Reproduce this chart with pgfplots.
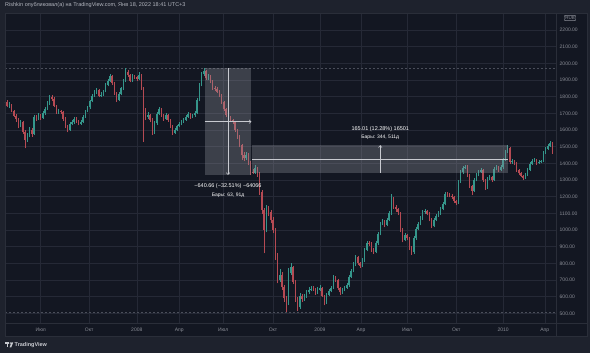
\documentclass[border=0pt]{standalone}
\usepackage{pgfplots}
\pgfplotsset{compat=1.18}
\usepackage{pgfplotstable}
\usepackage{fontspec}
\setmainfont{Liberation Sans}
\usetikzlibrary{arrows.meta}
\definecolor{bgout}{HTML}{1E222D}
\definecolor{panec}{HTML}{131722}
\definecolor{gridc}{HTML}{252936}
\definecolor{framec}{HTML}{2A2E39}
\definecolor{tickc}{HTML}{8A8D96}
\definecolor{upc}{HTML}{35968B}
\definecolor{dnc}{HTML}{B54A53}
\definecolor{boxc}{HTML}{9598A1}
\definecolor{linec}{HTML}{C8CAD0}
\definecolor{titlec}{HTML}{B2B5BE}
\definecolor{dashc}{HTML}{4A4E5A}

\pgfplotstableread{
x o h l c
0 1760 1785 1750 1770
3 1770 1778 1735 1742
6 1742 1765 1730 1752
9 1752 1758 1705 1715
12 1715 1722 1675 1685
15 1685 1695 1650 1665
18 1665 1670 1610 1622
21 1622 1660 1615 1648
24 1648 1655 1575 1590
27 1590 1598 1490 1540
30 1540 1580 1530 1565
33 1565 1615 1555 1602
36 1602 1610 1560 1575
39 1575 1690 1570 1678
42 1678 1688 1655 1668
45 1668 1702 1660 1690
48 1690 1698 1662 1672
51 1672 1712 1665 1700
54 1700 1738 1692 1728
57 1728 1772 1720 1760
60 1760 1812 1752 1800
63 1800 1810 1775 1788
66 1788 1795 1735 1745
69 1745 1752 1695 1705
72 1705 1725 1698 1712
75 1712 1722 1696 1708
78 1708 1715 1655 1668
81 1668 1675 1610 1620
84 1620 1630 1585 1602
87 1602 1645 1595 1636
90 1636 1658 1628 1645
93 1645 1678 1638 1668
96 1668 1675 1642 1652
99 1652 1660 1628 1638
102 1638 1658 1630 1648
105 1648 1690 1642 1680
108 1680 1722 1672 1712
111 1712 1745 1705 1735
114 1735 1782 1728 1772
117 1772 1815 1765 1805
120 1805 1838 1798 1826
123 1826 1852 1815 1840
126 1840 1846 1795 1805
129 1805 1825 1798 1812
132 1812 1842 1805 1830
135 1830 1880 1825 1870
138 1870 1905 1862 1895
141 1895 1935 1888 1922
144 1922 1928 1870 1880
147 1880 1885 1810 1820
150 1820 1828 1770 1780
153 1780 1825 1772 1815
156 1815 1860 1808 1850
159 1850 1905 1842 1895
162 1895 1972 1888 1948
165 1948 1960 1920 1930
168 1930 1938 1885 1895
171 1895 1938 1888 1925
174 1925 1932 1905 1915
177 1915 1922 1895 1905
180 1905 1945 1898 1932
183 1932 1938 1840 1850
186 1850 1858 1530 1720
189 1720 1730 1660 1680
192 1680 1705 1668 1690
195 1690 1698 1650 1662
198 1662 1670 1570 1585
201 1585 1652 1578 1640
204 1640 1705 1632 1695
207 1695 1738 1688 1725
210 1725 1732 1680 1690
213 1690 1698 1655 1668
216 1668 1700 1660 1690
219 1690 1696 1650 1660
222 1660 1668 1612 1625
225 1625 1632 1570 1582
228 1582 1612 1575 1600
231 1600 1632 1592 1622
234 1622 1645 1615 1635
237 1635 1660 1628 1650
240 1650 1672 1642 1662
243 1662 1690 1655 1680
246 1680 1705 1672 1695
249 1695 1700 1668 1678
252 1678 1698 1670 1688
255 1688 1712 1680 1700
258 1700 1790 1695 1780
261 1780 1880 1772 1870
264 1870 1948 1862 1935
267 1935 1971 1925 1955
270 1955 1962 1900 1912
273 1912 1935 1902 1922
276 1922 1928 1880 1890
279 1890 1898 1842 1852
282 1852 1862 1835 1848
285 1848 1855 1820 1830
288 1830 1838 1798 1808
291 1808 1815 1755 1765
294 1765 1772 1715 1725
297 1725 1732 1680 1690
300 1690 1698 1660 1672
303 1672 1682 1648 1660
306 1660 1668 1635 1648
309 1648 1655 1588 1600
312 1600 1608 1545 1560
315 1560 1568 1495 1510
318 1510 1518 1420 1448
321 1448 1465 1415 1430
324 1430 1468 1422 1452
327 1452 1460 1390 1405
330 1405 1412 1330 1350
333 1350 1365 1335 1344
336 1344 1390 1338 1372
339 1372 1380 1320 1340
342 1340 1348 1210 1230
345 1230 1240 1095 1120
348 1120 1130 860 1000
351 1000 1150 985 1130
354 1130 1145 1085 1110
357 1110 1120 1040 1060
360 1060 1075 980 1000
363 1000 1010 820 850
366 850 860 680 700
369 700 765 690 730
372 730 745 640 660
375 660 672 570 590
378 590 605 505 560
381 560 770 550 740
384 740 800 730 775
387 775 785 675 690
390 690 700 570 590
393 590 600 515 535
396 535 620 528 605
399 605 618 570 585
402 585 615 575 600
405 600 640 592 625
408 625 655 615 640
411 640 665 632 648
414 648 662 635 645
417 645 652 610 622
420 622 655 615 640
423 640 668 632 650
426 650 658 595 605
429 605 612 548 565
432 565 622 558 610
435 610 645 602 632
438 632 662 625 650
441 650 728 645 715
444 715 722 688 700
447 700 708 638 650
450 650 658 612 625
453 625 652 615 640
456 640 665 632 652
459 652 680 645 668
462 668 732 660 720
465 720 765 712 752
468 752 805 745 790
471 790 850 782 838
474 838 845 790 800
477 800 810 772 785
480 785 830 778 818
483 818 892 810 880
486 880 935 872 920
489 920 932 905 918
492 918 925 868 880
495 880 890 855 868
498 868 932 860 920
501 920 988 912 975
504 975 1050 968 1038
507 1038 1065 1028 1052
510 1052 1060 1015 1030
513 1030 1072 1022 1060
516 1060 1112 1052 1100
519 1100 1215 1092 1195
522 1195 1200 1128 1140
525 1140 1148 1110 1125
528 1125 1132 1092 1105
531 1105 1110 990 1002
534 1002 1010 925 940
537 940 980 932 968
540 968 975 938 950
543 950 958 880 895
546 895 902 850 865
549 865 962 858 950
552 950 1015 942 1005
555 1005 1048 998 1035
558 1035 1082 1028 1070
561 1070 1118 1062 1105
564 1105 1125 1095 1112
567 1112 1120 1088 1098
570 1098 1105 1052 1065
573 1065 1072 1010 1022
576 1022 1070 1015 1060
579 1060 1095 1052 1085
582 1085 1112 1078 1100
585 1100 1135 1092 1125
588 1125 1168 1118 1155
591 1155 1230 1148 1218
594 1218 1228 1200 1212
597 1212 1220 1195 1205
600 1205 1215 1188 1198
603 1198 1205 1162 1175
606 1175 1182 1148 1160
609 1160 1302 1155 1290
612 1290 1358 1282 1345
615 1345 1385 1338 1372
618 1372 1392 1365 1380
621 1380 1388 1320 1330
624 1330 1338 1250 1262
627 1262 1270 1210 1235
630 1235 1312 1228 1300
633 1300 1342 1292 1330
636 1330 1362 1322 1350
639 1350 1370 1342 1358
642 1358 1365 1290 1300
645 1300 1308 1242 1255
648 1255 1320 1248 1310
651 1310 1330 1300 1318
654 1318 1325 1290 1300
657 1300 1375 1295 1365
660 1365 1390 1358 1378
663 1378 1385 1350 1360
666 1360 1388 1352 1375
669 1375 1432 1368 1420
672 1420 1482 1412 1470
675 1470 1509 1462 1490
678 1490 1495 1395 1405
681 1405 1425 1398 1412
684 1412 1418 1388 1400
687 1400 1408 1350 1362
690 1362 1368 1328 1340
693 1340 1348 1315 1325
696 1325 1332 1300 1312
699 1312 1342 1305 1330
702 1330 1370 1322 1360
705 1360 1408 1352 1398
708 1398 1425 1390 1415
711 1415 1432 1405 1420
714 1420 1428 1392 1402
717 1402 1418 1395 1408
720 1408 1422 1400 1412
723 1412 1475 1405 1465
726 1465 1498 1458 1488
729 1488 1518 1480 1505
732 1505 1535 1498 1520
735 1520 1525 1458 1468
}\candles

\begin{document}
\begin{tikzpicture}[font=\fontsize{5.5}{6.5}\selectfont]
\useasboundingbox (0,0) rectangle (590pt,353pt);
\fill[bgout] (0,0) rectangle (590pt,353pt);
\fill[panec] (5pt,17pt) rectangle (587pt,340pt);
\node[anchor=west, inner sep=0pt, text=titlec] at (5pt,348pt) {Rishkin опубликовал(а) на TradingView.com, Янв 18, 2022 18:41 UTC+3};

\begin{axis}[
  at={(5pt,30pt)}, anchor=south west,
  scale only axis, width=551pt, height=310pt,
  xmin=0, xmax=740, ymin=442, ymax=2302,
  axis line style={draw=framec},
  axis background/.style={fill=panec},
  xtick={48,113,177,234,293,360,423,478,540,606,669,725},
  xticklabels={Июл,Окт,2008,Апр,Июл,Окт,2009,Апр,Июл,Окт,2010,Апр},
  ytick={500,600,...,2200},
  extra y ticks={2300}, extra y tick labels={},
  extra tick style={grid=major},
  grid=major, major grid style={draw=gridc, line width=0.5pt},
  major tick length=0pt,
  yticklabel pos=right,
  /pgf/number format/assume math mode=true,
  ticklabel style={font=\fontsize{5}{6}\selectfont, text=tickc},
  xticklabel style={anchor=center, yshift=-7pt, inner sep=0pt},
  yticklabel style={anchor=west, xshift=3.5pt, inner sep=0pt,
    /pgf/number format/.cd, fixed, fixed zerofill, precision=2, 1000 sep={}},
  restrict y to domain=0:5000,
  clip=true,
  candle/.style={draw=none, mark=none, error bars/.cd, y dir=plus, y explicit, error mark=none},
]
% dashed high/low lines
\addplot[dashc, dash pattern=on 2pt off 2pt, line width=0.5pt] coordinates {(0,1970.66) (740,1970.66)};
\addplot[dashc, dash pattern=on 2pt off 2pt, line width=0.5pt] coordinates {(0,505) (740,505)};

% up candles: wicks and bodies
\addplot[candle, error bar style={draw=upc, line width=0.5pt}]
  table[x=x, y expr={\thisrow{c}>\thisrow{o} ? \thisrow{l} : -1000},
        y error plus expr={\thisrow{h}-\thisrow{l}}] {\candles};
\addplot[candle, error bar style={draw=upc, line width=1.5pt}]
  table[x=x, y expr={\thisrow{c}>\thisrow{o} ? \thisrow{o} : -1000},
        y error plus expr={\thisrow{c}-\thisrow{o}}] {\candles};
% down candles
\addplot[candle, error bar style={draw=dnc, line width=0.5pt}]
  table[x=x, y expr={\thisrow{c}<\thisrow{o} ? \thisrow{l} : -1000},
        y error plus expr={\thisrow{h}-\thisrow{l}}] {\candles};
\addplot[candle, error bar style={draw=dnc, line width=1.5pt}]
  table[x=x, y expr={\thisrow{c}<\thisrow{o} ? \thisrow{c} : -1000},
        y error plus expr={\thisrow{o}-\thisrow{c}}] {\candles};

% measurement box 1
\addplot[draw=none, fill=boxc, fill opacity=0.32] coordinates {(268,1330) (331,1330) (331,1970.66) (268,1970.66)} -- cycle;
\addplot[linec, line width=0.5pt, -{Straight Barb[length=2pt,width=3.5pt]}] coordinates {(299.5,1970.66) (299.5,1330)};
\addplot[linec, line width=0.5pt, -{Straight Barb[length=2pt,width=3.5pt]}] coordinates {(268,1650) (331,1650)};
\node[text=white, inner sep=0pt] at (axis cs:299.5,1262) {−640.66 (−32.51\%) −64066};
\node[text=white, inner sep=0pt, font=\fontsize{5}{6}\selectfont] at (axis cs:299.5,1210) {Бары: 63, 91д};

% measurement box 2
\addplot[draw=none, fill=boxc, fill opacity=0.32] coordinates {(332,1344) (676,1344) (676,1509) (332,1509)} -- cycle;
\addplot[linec, line width=0.5pt, -{Straight Barb[length=2pt,width=3.5pt]}] coordinates {(504,1344) (504,1509)};
\addplot[linec, line width=0.5pt] coordinates {(332,1426) (676,1426)};
\node[text=white, inner sep=0pt] at (axis cs:504,1606) {165.01 (12.28\%) 16501};
\node[text=white, inner sep=0pt, font=\fontsize{5}{6}\selectfont] at (axis cs:504,1556) {Бары: 344, 511д};
\end{axis}

% frame of chart, price and time scales
\draw[framec, line width=0.5pt] (5pt,17pt) rectangle (587pt,340pt);
\draw[framec, line width=0.5pt] (556pt,17pt) -- (556pt,340pt);
\draw[framec, line width=0.5pt] (5pt,30pt) -- (587pt,30pt);
\node[draw=tickc, rounded corners=0.8pt, inner sep=1pt, text=tickc, font=\fontsize{4.5}{5}\selectfont] at (570pt,335pt) {RUB};

% TradingView logo
\fill[linec] (5pt,10.6pt) rectangle (9.4pt,9.2pt);
\fill[linec] (7pt,9.3pt) rectangle (8.4pt,5.6pt);
\fill[linec] (10.3pt,9.9pt) circle (0.8pt);
\fill[linec] (11.4pt,10.6pt) -- (13.2pt,10.6pt) -- (11.2pt,5.6pt) -- (9.6pt,5.6pt) -- cycle;
\node[anchor=west, inner sep=0pt, text=linec, font=\fontsize{5.5}{6.5}\selectfont\bfseries] at (14.5pt,8pt) {TradingView};
\end{tikzpicture}
\end{document}
